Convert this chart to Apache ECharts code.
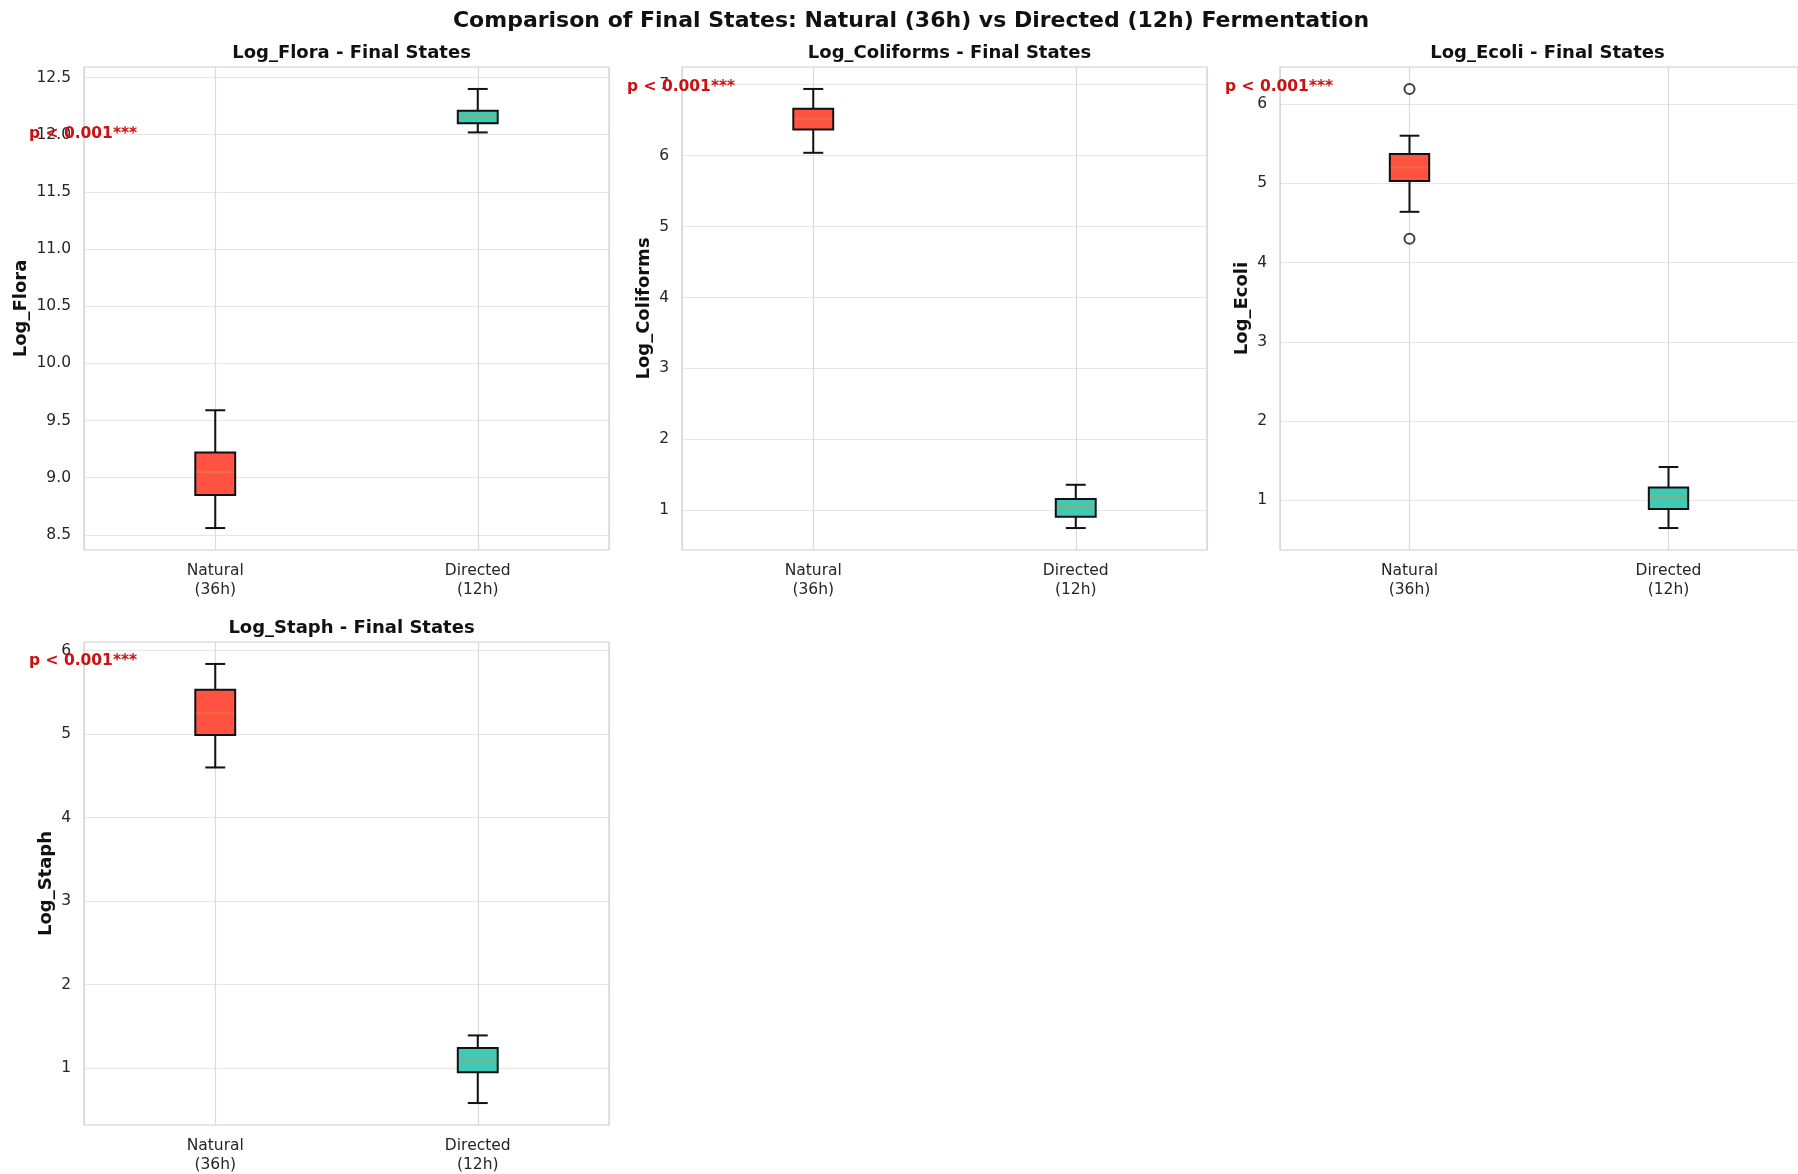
<!DOCTYPE html>
<html>
<head>
<meta charset="utf-8">
<title>Final States Comparison</title>
<script src="https://cdn.jsdelivr.net/npm/echarts@6/dist/echarts.min.js"></script>
<style>
  html, body { margin: 0; padding: 0; background: #fff; }
  #chart { width: 1798px; height: 1174px; }
</style>
</head>
<body>
<div id="chart"></div>
<script>
// metrics and groups
const metrics = ['Log_Flora', 'Log_Coliforms', 'Log_Ecoli', 'Log_Staph']
const groups = ['Natural\n(36h)', 'Directed\n(12h)']

// box stats per metric: [lower whisker, Q1, median, Q3, upper whisker]
const naturalStats = [
  [8.56, 8.85, 9.05, 9.22, 9.59],
  [6.04, 6.37, 6.52, 6.66, 6.94],
  [4.64, 5.03, 5.20, 5.37, 5.60],
  [4.60, 4.99, 5.25, 5.53, 5.84]
]
const directedStats = [
  [12.02, 12.10, 12.16, 12.21, 12.40],
  [0.75, 0.91, 1.05, 1.16, 1.36],
  [0.65, 0.89, 1.04, 1.16, 1.42],
  [0.58, 0.95, 1.10, 1.24, 1.39]
]
// points outside the whiskers (Natural group)
const naturalOutliers = [[], [], [6.19, 4.30], []]

// y tick step per panel
const yTickStep = [0.5, 1, 1, 1]

// significance labels and the y value they sit at
const pLabels = ['p < 0.001***', 'p < 0.001***', 'p < 0.001***', 'p < 0.001***']
const pLabelY = [12.01, 6.97, 6.22, 5.87]

const mainTitle = 'Comparison of Final States: Natural (36h) vs Directed (12h) Fermentation'

// layout
const FONT = 'DejaVu Sans'
const boxColors = ['#FF5242', '#40C9B5']
const panels = [
  { left: 84, top: 67, nameGap: 54 },
  { left: 682, top: 67, nameGap: 29 },
  { left: 1280, top: 67, nameGap: 29 },
  { left: 84, top: 642, nameGap: 29 }
]
const panelW = 525
const panelH = 483

// matplotlib-style 5% padding around the data
function yRange(i) {
  const vals = naturalStats[i].concat(directedStats[i], naturalOutliers[i])
  const lo = Math.min(...vals)
  const hi = Math.max(...vals)
  const pad = (hi - lo) * 0.05
  return [lo - pad, hi + pad]
}

function renderBox(params, api) {
  const x = api.value(0)
  const low = api.coord([x, api.value(1)])
  const q1 = api.coord([x, api.value(2)])
  const med = api.coord([x, api.value(3)])
  const q3 = api.coord([x, api.value(4)])
  const high = api.coord([x, api.value(5)])
  const bw = api.size([1, 0])[0] * 0.152
  const cx = low[0]
  const line = (x1, y1, x2, y2) => ({
    type: 'line',
    shape: { x1, y1, x2, y2 },
    style: { stroke: '#111', lineWidth: 2 }
  })
  return {
    type: 'group',
    children: [
      line(cx, high[1], cx, q3[1]),
      line(cx, q1[1], cx, low[1]),
      line(cx - bw / 4, high[1], cx + bw / 4, high[1]),
      line(cx - bw / 4, low[1], cx + bw / 4, low[1]),
      {
        type: 'rect',
        shape: { x: cx - bw / 2, y: q3[1], width: bw, height: q1[1] - q3[1] },
        style: { fill: boxColors[x], stroke: '#111', lineWidth: 2 }
      },
      {
        type: 'line',
        shape: { x1: cx - bw / 2 + 1, y1: med[1], x2: cx + bw / 2 - 1, y2: med[1] },
        style: { stroke: 'rgba(220,140,50,0.45)', lineWidth: 2 }
      }
    ]
  }
}

const grid = []
const xAxis = []
const yAxis = []
const series = []
const title = [{
  text: mainTitle,
  left: 906,
  top: 5,
  textAlign: 'center',
  textStyle: { fontFamily: FONT, fontSize: 22, fontWeight: 'bold', color: '#111' }
}]

metrics.forEach((m, i) => {
  const p = panels[i]
  const range = yRange(i)
  const step = yTickStep[i]

  grid.push({
    left: p.left, top: p.top, width: panelW, height: panelH,
    show: true, borderColor: '#cfcfcf', borderWidth: 1.2, backgroundColor: '#fff'
  })

  title.push({
    text: m + ' - Final States',
    left: p.left + panelW / 2,
    top: p.top - 28,
    textAlign: 'center',
    textStyle: { fontFamily: FONT, fontSize: 18, fontWeight: 'bold', color: '#111' }
  })

  xAxis.push({
    type: 'value', gridIndex: i,
    min: -0.5, max: 1.5, minInterval: 1, maxInterval: 1,
    axisLine: { show: false }, axisTick: { show: false },
    splitLine: { show: true, lineStyle: { color: '#dadada', width: 1.2 } },
    axisLabel: {
      showMinLabel: false, showMaxLabel: false,
      margin: 12, fontFamily: FONT, fontSize: 15.5, lineHeight: 18.5, color: '#262626',
      formatter: v => (v === 0 ? groups[0] : v === 1 ? groups[1] : '')
    }
  })

  yAxis.push({
    type: 'value', gridIndex: i,
    min: range[0], max: range[1],
    minInterval: step, maxInterval: step, splitNumber: 8,
    name: m, nameLocation: 'middle', nameGap: p.nameGap,
    nameTextStyle: { fontFamily: FONT, fontSize: 18, fontWeight: 'bold', color: '#111' },
    axisLine: { show: false }, axisTick: { show: false },
    splitLine: { show: true, lineStyle: { color: '#e6e6e6', width: 1.2 } },
    axisLabel: {
      showMinLabel: false, showMaxLabel: false,
      margin: 13, fontFamily: FONT, fontSize: 15.5, color: '#262626',
      formatter: v => (step < 1 ? v.toFixed(1) : v.toFixed(0))
    }
  })

  series.push({
    type: 'custom',
    xAxisIndex: i, yAxisIndex: i,
    renderItem: renderBox,
    encode: { x: 0, y: [1, 2, 3, 4, 5] },
    data: [[0].concat(naturalStats[i]), [1].concat(directedStats[i])]
  })

  if (naturalOutliers[i].length) {
    series.push({
      type: 'scatter',
      xAxisIndex: i, yAxisIndex: i,
      symbol: 'circle', symbolSize: 10,
      itemStyle: { color: '#fff', borderColor: '#111', borderWidth: 2 },
      data: naturalOutliers[i].map(v => [0, v])
    })
  }
})

const chart = echarts.init(document.getElementById('chart'))
chart.setOption({
  backgroundColor: '#fff',
  animation: false,
  title,
  grid,
  xAxis,
  yAxis,
  series
})

// p-value labels, placed at data y and left of the plot area
chart.setOption({
  graphic: pLabels.map((t, i) => ({
    type: 'text',
    x: panels[i].left - 55,
    y: chart.convertToPixel({ yAxisIndex: i }, pLabelY[i]),
    z: 100,
    style: {
      text: t,
      fill: '#cc1010',
      font: 'bold 15.5px "DejaVu Sans"',
      verticalAlign: 'middle'
    }
  }))
})
</script>
</body>
</html>
